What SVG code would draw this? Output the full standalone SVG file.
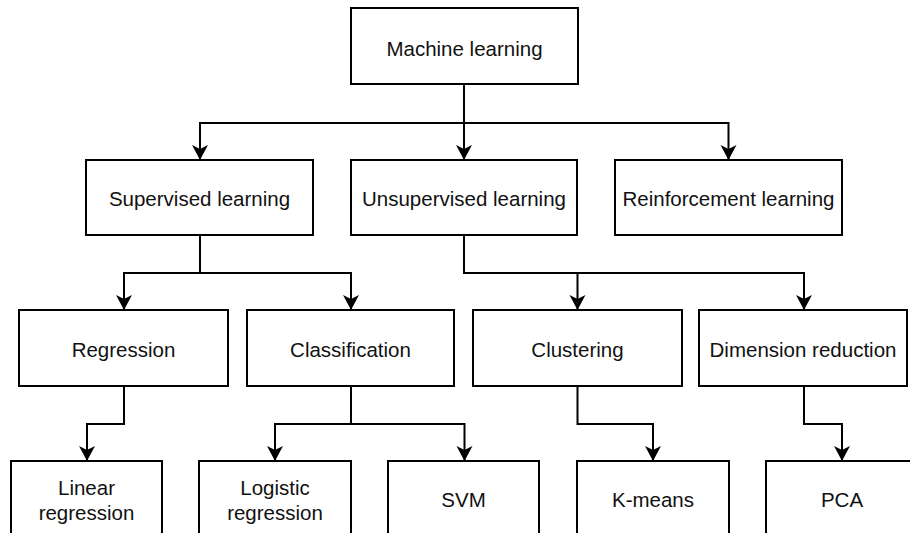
<svg xmlns="http://www.w3.org/2000/svg" width="910" height="533" viewBox="0 0 910 533">
<style>
.box{fill:#fff;stroke:#000;stroke-width:2}
.t{font-family:"Liberation Sans",Arial,sans-serif;font-size:20.5px;fill:#111;text-anchor:middle}
.c{fill:none;stroke:#000;stroke-width:2;marker-end:url(#arr)}
</style>
<defs>
<marker id="arr" markerUnits="userSpaceOnUse" markerWidth="17" markerHeight="18" viewBox="-16 -9 17 18" refX="0" refY="0" orient="auto">
<path d="M0,0 L-15,-8 L-11,0 L-15,8 Z" fill="#000"/>
</marker>
</defs>
<rect width="910" height="533" fill="#fff"/>
<g id="connectors">
<path class="c" d="M464,84 V123 H200 V160"/>
<path class="c" d="M464,84 V160"/>
<path class="c" d="M464,84 V123 H728.5 V160"/>
<path class="c" d="M200,235 V273 H124 V310"/>
<path class="c" d="M200,235 V273 H351 V310"/>
<path class="c" d="M464,235 V273 H577.5 V310"/>
<path class="c" d="M464,235 V273 H804 V310"/>
<path class="c" d="M124,386 V424 H87 V461"/>
<path class="c" d="M351,386 V424 H275 V461"/>
<path class="c" d="M351,386 V424 H464.5 V461"/>
<path class="c" d="M577.5,386 V424 H653 V461"/>
<path class="c" d="M804,386 V424 H842 V461"/>
</g>
<g id="ml"><rect class="box" x="351" y="8" width="227" height="76"/><text class="t" x="464.5" y="55.5">Machine learning</text></g>
<g id="supervised"><rect class="box" x="86" y="160" width="227" height="75"/><text class="t" x="199.5" y="206">Supervised learning</text></g>
<g id="unsupervised"><rect class="box" x="351" y="160" width="226" height="75"/><text class="t" x="464" y="206">Unsupervised learning</text></g>
<g id="reinforcement"><rect class="box" x="615" y="160" width="227" height="75"/><text class="t" x="728.5" y="206">Reinforcement learning</text></g>
<g id="regression"><rect class="box" x="19" y="310" width="209" height="76"/><text class="t" x="123.5" y="357">Regression</text></g>
<g id="classification"><rect class="box" x="247" y="310" width="207" height="76"/><text class="t" x="350.5" y="357">Classification</text></g>
<g id="clustering"><rect class="box" x="473" y="310" width="209" height="76"/><text class="t" x="577.5" y="357">Clustering</text></g>
<g id="dimred"><rect class="box" x="699" y="310" width="208" height="76"/><text class="t" x="803" y="357">Dimension reduction</text></g>
<g id="linreg"><rect class="box" x="11" y="461" width="151" height="75"/><text class="t" x="86.5" y="495">Linear</text><text class="t" x="86.5" y="520">regression</text></g>
<g id="logreg"><rect class="box" x="199" y="461" width="152" height="75"/><text class="t" x="275" y="495">Logistic</text><text class="t" x="275" y="520">regression</text></g>
<g id="svm"><rect class="box" x="388" y="461" width="151" height="75"/><text class="t" x="463.5" y="507">SVM</text></g>
<g id="kmeans"><rect class="box" x="577" y="461" width="152" height="75"/><text class="t" x="653" y="507">K-means</text></g>
<g id="pca"><rect class="box" x="766" y="461" width="152" height="75"/><text class="t" x="842" y="507">PCA</text></g>
</svg>
